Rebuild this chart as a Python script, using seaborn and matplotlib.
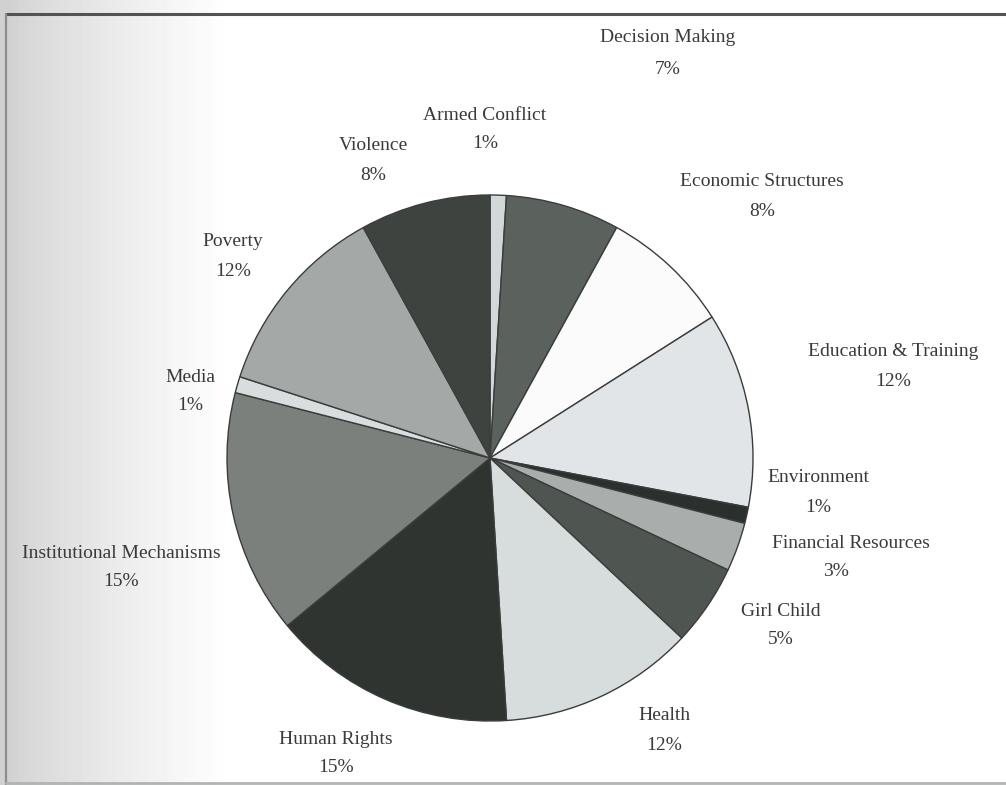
import numpy as np
import matplotlib
matplotlib.use("Agg")
import matplotlib.pyplot as plt
import seaborn as sns

categories = ["Armed Conflict", "Decision Making", "Economic Structures",
              "Education & Training", "Environment", "Financial Resources",
              "Girl Child", "Health", "Human Rights", "Institutional Mechanisms",
              "Media", "Poverty", "Violence"]
values = [1, 7, 8, 12, 1, 3, 5, 12, 15, 15, 1, 12, 8]

colors = ["#d2d7d7", "#5b615d", "#fbfbfb", "#e1e5e7", "#2b2f2d", "#a9aeac",
          "#4f5652", "#d7dcdc", "#2f3430", "#7b807d", "#d9dddd", "#a4a9a7",
          "#3e4340"]

# label anchor positions (pixel coords, y from top): name line and percent line
label_pos = [(485, 115), (668, 38), (762, 182), (893, 351), (818, 478),
             (851, 544), (781, 611), (664, 716), (336, 740), (121, 553),
             (190, 377), (233, 242), (373, 146)]
pct_pos = [(485, 144), (668, 70), (762, 211), (893, 381), (818, 508),
           (836, 572), (781, 640), (664, 745), (336, 768), (121, 582),
           (190, 406), (233, 271), (373, 175)]

sns.set_theme(style="white")
plt.rcParams['font.family'] = ['Liberation Serif', 'DejaVu Serif']

W, H = 1006, 785
fig = plt.figure(figsize=(W / 100, H / 100), dpi=100)
fig.patch.set_facecolor("white")

# background (scan look)
bg = fig.add_axes([0, 0, 1, 1])
bg.set_xlim(0, W)
bg.set_ylim(H, 0)
bg.axis("off")
xs = np.linspace(0, W, W)
grad = np.clip((xs - 10) / 220.0, 0, 1) ** 0.8
shade = 0.82 + 0.18 * grad
img = np.tile(shade, (H, 1))
bg.imshow(img, cmap="gray", vmin=0, vmax=1, extent=[0, W, H, 0], aspect="auto", zorder=0)
bg.plot([6, W], [14, 14], color="#505453", lw=2.2, zorder=1)
bg.plot([6, 6], [14, H], color="#8a8e8d", lw=1.6, zorder=1)
bg.plot([6, W], [H - 2, H - 2], color="#b0b4b3", lw=2, zorder=1)

ax = fig.add_axes([0, 0, 1, 1])
ax.patch.set_alpha(0)
ax.set_xlim(0, W)
ax.set_ylim(0, H)
ax.set_aspect("equal")
ax.axis("off")

cx, cy, r = 490, H - 458, 263
ax.pie(values, colors=colors, startangle=90, counterclock=False,
       center=(cx, cy), radius=r, frame=True,
       wedgeprops=dict(edgecolor="#3a3d3c", linewidth=1.0))
ax.set_xlim(0, W)
ax.set_ylim(0, H)
ax.axis("off")

for name, v, (x, y), (px, py) in zip(categories, values, label_pos, pct_pos):
    ax.text(x, H - y, name, ha="center", va="center", fontsize=14, color="#3a3a3a")
    ax.text(px, H - py, f"{v}%", ha="center", va="center", fontsize=14, color="#3a3a3a")

fig.savefig("out.png", dpi=100)
